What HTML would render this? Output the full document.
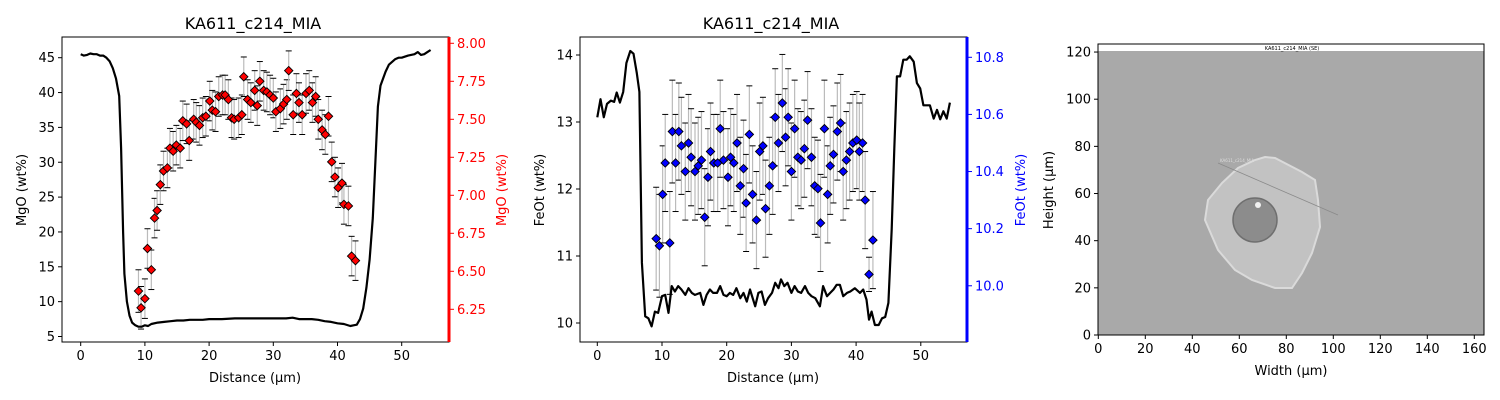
<!DOCTYPE html>
<html><head><meta charset="utf-8"><style>
body{margin:0;background:#fff;}
svg{display:block;font-family:"DejaVu Sans","Liberation Sans",sans-serif;}
</style></head><body>
<svg id="fig" width="1500" height="400" viewBox="0 0 1500 400" xmlns="http://www.w3.org/2000/svg">
<rect width="1500" height="400" fill="#fff"/>
<text x="253" y="29" font-size="16" text-anchor="middle">KA611_c214_MIA</text>
<text x="771" y="29" font-size="16" text-anchor="middle">KA611_c214_MIA</text>
<text x="255" y="382" font-size="13" text-anchor="middle">Distance (µm)</text>
<text x="773" y="382" font-size="13" text-anchor="middle">Distance (µm)</text>
<text x="1291" y="375" font-size="13" text-anchor="middle">Width (µm)</text>
<text transform="translate(26,190) rotate(-90)" font-size="13" text-anchor="middle">MgO (wt%)</text>
<text transform="translate(506,190) rotate(-90)" font-size="13" fill="red" text-anchor="middle">MgO (wt%)</text>
<text transform="translate(544,190) rotate(-90)" font-size="13" text-anchor="middle">FeOt (wt%)</text>
<text transform="translate(1025,190) rotate(-90)" font-size="13" fill="blue" text-anchor="middle">FeOt (wt%)</text>
<text transform="translate(1053,190) rotate(-90)" font-size="13" text-anchor="middle">Height (µm)</text>
<g id="p1"></g>
<g id="p2"></g>
<g id="p3">
  <rect x="1098" y="44" width="386" height="291" fill="#a9a9a9"/>
  <rect x="1098" y="44" width="386" height="7" fill="#fff"/>
  <text x="1292" y="50" font-size="5" text-anchor="middle">KA611_c214_MIA (SE)</text>
  <polygon points="1265,157 1275,158 1302,172 1315,180 1318,200 1320,227 1312,253 1302,273 1292,288 1275,288 1252,280 1235,270 1218,250 1205,220 1208,200 1222,183 1238,168 1255,160" fill="#c2c2c2" stroke="#dadada" stroke-width="2"/>
  <circle cx="1255" cy="220" r="22" fill="#8c8c8c" stroke="#6f6f6f" stroke-width="1.5"/>
  <circle cx="1258" cy="205" r="3" fill="#f0f0f0"/>
  <line x1="1218" y1="163" x2="1338" y2="215" stroke="#8a8a8a" stroke-width="0.8"/>
  <text x="1220" y="162" font-size="4" fill="#ddd">KA611_c214_MIA</text>
</g>
</svg>
<script>
// ---------- MgO data ----------
const mgoLineX=[0,0.5,1,1.5,2,2.5,3,3.5,4,4.5,5,5.5,6,6.3,6.6,6.8,7.2,7.6,8,8.5,9,9.5,10,10.5,11,12,13,14,15,16,17,18,19,20,22,24,26,28,30,32,33,34,36,37,38,39,40,41,42,42.5,43,43.5,44,44.5,45,45.5,46,46.3,46.7,47.5,48,49,49.5,50,51,52,52.5,53,53.5,54,54.5];
const mgoLineY=[45.5,45.3,45.4,45.6,45.5,45.5,45.3,45.3,45.0,44.5,43.5,42,39.5,32,20,14,10,8,7,6.6,6.4,6.4,6.6,6.5,6.8,7.0,7.1,7.2,7.3,7.3,7.4,7.4,7.4,7.5,7.5,7.6,7.6,7.6,7.6,7.6,7.7,7.5,7.5,7.4,7.2,7.1,6.9,6.8,6.5,6.6,6.7,7.5,9,12,16,22,32,38,41,43,44,44.8,45,45,45.3,45.5,45.8,45.4,45.5,45.8,46.1];
const mgoPtX=[9.0,9.4,10.0,10.4,11.0,11.5,11.9,12.4,12.9,13.5,13.9,14.4,14.9,15.5,15.9,16.5,16.9,17.6,18.0,18.5,19.0,19.5,20.1,20.5,21.0,21.5,22.1,22.5,23.0,23.5,23.9,24.6,25.1,25.4,26.0,26.5,27.1,27.5,27.9,28.5,29.0,29.5,30.0,30.4,31.1,31.6,32.1,32.4,33.1,33.6,34.0,34.5,35.1,35.6,36.1,36.6,37.0,37.6,38.1,38.6,39.1,39.6,40.1,40.7,41.0,41.7,42.2,42.8];
const mgoPtY=[6.37,6.26,6.32,6.65,6.51,6.85,6.90,7.07,7.16,7.18,7.31,7.29,7.33,7.31,7.49,7.47,7.36,7.50,7.48,7.46,7.51,7.52,7.62,7.56,7.55,7.65,7.66,7.66,7.63,7.51,7.50,7.51,7.53,7.78,7.63,7.61,7.69,7.59,7.75,7.69,7.68,7.66,7.64,7.55,7.57,7.60,7.63,7.82,7.53,7.67,7.61,7.53,7.67,7.69,7.61,7.65,7.50,7.43,7.40,7.52,7.22,7.12,7.05,7.08,6.94,6.93,6.60,6.57];
const mgoErr=[0.14,0.14,0.13,0.13,0.13,0.13,0.13,0.13,0.13,0.13,0.13,0.13,0.13,0.13,0.13,0.13,0.13,0.13,0.13,0.13,0.13,0.13,0.13,0.13,0.13,0.13,0.13,0.13,0.13,0.13,0.13,0.13,0.13,0.13,0.13,0.13,0.13,0.13,0.13,0.13,0.13,0.13,0.13,0.13,0.13,0.13,0.13,0.13,0.13,0.13,0.13,0.13,0.13,0.13,0.13,0.13,0.13,0.13,0.13,0.13,0.13,0.13,0.13,0.13,0.13,0.13,0.13,0.13];
const mgoXTicks=[0,10,20,30,40,50];
const mgoLTicks=[5,10,15,20,25,30,35,40,45];
const mgoRTicks=["6.25","6.50","6.75","7.00","7.25","7.50","7.75","8.00"];
// ---------- FeO data ----------
const feoLineX=[0,0.5,1.0,1.5,2.1,2.6,3.0,3.5,4.0,4.5,5.1,5.6,6.1,6.5,6.9,7.4,7.9,8.4,8.9,9.4,10.0,10.5,11.0,11.5,12.0,12.5,13.0,13.6,14.1,14.6,15.1,15.9,16.4,16.9,17.4,17.9,18.5,19.0,19.5,20.0,20.5,21.0,21.5,22.1,22.6,23.1,23.6,24.4,24.9,25.4,25.9,26.4,27.0,27.5,28.0,28.4,28.9,29.4,30.0,30.5,31.0,31.5,32.1,32.6,33.1,33.7,34.4,34.9,35.5,36.0,36.5,37.0,37.5,38.0,38.6,39.1,39.8,40.6,41.1,41.6,42.0,42.4,42.9,43.5,44.0,44.5,45.0,45.5,45.9,46.3,46.8,47.3,47.8,48.3,48.9,49.4,49.9,50.4,50.9,51.4,52.0,52.5,53.0,53.5,54.0,54.5];
const feoLineY=[13.07,13.34,13.07,13.27,13.32,13.30,13.44,13.29,13.45,13.88,14.06,14.02,13.73,13.45,10.9,10.10,10.07,9.95,10.17,10.15,10.40,10.42,10.15,10.55,10.47,10.55,10.50,10.42,10.52,10.45,10.42,10.45,10.27,10.42,10.50,10.45,10.45,10.55,10.42,10.40,10.45,10.42,10.52,10.37,10.45,10.32,10.50,10.25,10.45,10.47,10.27,10.37,10.45,10.60,10.52,10.65,10.55,10.60,10.45,10.55,10.47,10.45,10.55,10.45,10.40,10.37,10.25,10.55,10.40,10.45,10.50,10.57,10.57,10.40,10.45,10.47,10.52,10.45,10.50,10.35,10.05,10.17,9.97,9.97,10.07,10.09,10.30,11.4,12.6,13.68,13.68,13.93,13.93,13.98,13.90,13.58,13.50,13.25,13.25,13.25,13.05,13.18,13.04,13.16,13.05,13.29];
const feoPtX=[9.1,9.6,10.1,10.5,11.2,11.6,12.1,12.6,13.0,13.6,14.1,14.5,15.1,15.6,16.1,16.6,17.1,17.5,18.0,18.6,19.0,19.5,20.2,20.6,21.1,21.6,22.1,22.6,23.0,23.5,24.0,24.6,25.1,25.6,26.0,26.6,27.1,27.5,28.0,28.6,29.1,29.5,30.0,30.5,31.0,31.5,32.0,32.5,33.1,33.6,34.1,34.5,35.1,35.6,36.0,36.5,37.1,37.6,38.0,38.5,39.0,39.5,40.1,40.5,41.0,41.4,42.0,42.6];
const feoPtY=[10.165,10.14,10.32,10.43,10.15,10.54,10.43,10.54,10.49,10.40,10.50,10.45,10.40,10.42,10.44,10.24,10.38,10.47,10.43,10.43,10.55,10.44,10.38,10.45,10.43,10.50,10.35,10.41,10.29,10.53,10.32,10.23,10.47,10.49,10.27,10.35,10.42,10.59,10.50,10.64,10.52,10.59,10.40,10.55,10.45,10.44,10.48,10.58,10.45,10.35,10.34,10.22,10.55,10.32,10.42,10.46,10.54,10.57,10.40,10.44,10.47,10.50,10.51,10.47,10.50,10.30,10.04,10.16];
const feoErr=[0.18,0.18,0.17,0.17,0.18,0.18,0.17,0.17,0.17,0.17,0.17,0.17,0.17,0.17,0.17,0.17,0.17,0.17,0.17,0.17,0.17,0.17,0.17,0.17,0.17,0.17,0.17,0.17,0.17,0.17,0.17,0.17,0.17,0.17,0.17,0.17,0.17,0.17,0.17,0.17,0.17,0.17,0.17,0.17,0.17,0.17,0.17,0.17,0.17,0.17,0.17,0.17,0.17,0.17,0.17,0.17,0.17,0.17,0.17,0.17,0.17,0.17,0.17,0.17,0.17,0.17,0.06,0.17];
const feoXTicks=[0,10,20,30,40,50];
const feoLTicks=[10,11,12,13,14];
const feoRTicks=["10.0","10.2","10.4","10.6","10.8"];
// ---------- image axes ----------
const imgXTicks=[0,20,40,60,80,100,120,140,160];
const imgYTicks=[0,20,40,60,80,100,120];

const NS="http://www.w3.org/2000/svg";
function mk(parent,tag,attrs){const e=document.createElementNS(NS,tag);for(const k in attrs)e.setAttribute(k,attrs[k]);parent.appendChild(e);return e;}
function txt(parent,x,y,s,anchor,fill){const t=mk(parent,'text',{x:x,y:y,'font-size':13,'text-anchor':anchor,fill:fill||'#000'});t.textContent=s;return t;}

function panel(g,box,X,YL,YR,lx,ly,px,py,err,xt,lt,rt,rtv,col,fillc){
  // error bars
  for(let i=0;i<px.length;i++){
    const x=X(px[i]),y1=YR(py[i]+err[i]),y2=YR(py[i]-err[i]);
    const l=mk(g,'line',{x1:x,x2:x,y1:y1,y2:y2,stroke:'#bbb','stroke-width':1.2});
    
    
    const c1=mk(g,'line',{x1:x-3,x2:x+3,y1:y1,y2:y1,stroke:'#000','stroke-width':1});
    
    
    const c2=mk(g,'line',{x1:x-3,x2:x+3,y1:y2,y2:y2,stroke:'#000','stroke-width':1});
    
    
  }
  // line
  const pts=lx.map((v,i)=>X(v).toFixed(1)+','+YL(ly[i]).toFixed(1)).join(' ');
  const pl=mk(g,'polyline',{points:pts,fill:'none',stroke:'#000','stroke-width':2.2,'stroke-linejoin':'round'});
  
  
  // markers
  for(let i=0;i<px.length;i++){
    const x=X(px[i]),y=YR(py[i]),r=4.2;
    const d=mk(g,'polygon',{points:`${x},${y-r} ${x+r},${y} ${x},${y+r} ${x-r},${y}`,fill:fillc,stroke:'#000','stroke-width':0.9});
    
    
  }
  // frame
  const f=mk(g,'rect',{x:box[0],y:box[1],width:box[2]-box[0],height:box[3]-box[1],fill:'none',stroke:'#000','stroke-width':1});
  
  
  const rs=mk(g,'line',{x1:box[2],x2:box[2],y1:box[1],y2:box[3],stroke:col,'stroke-width':3});
  
  
  xt.forEach(v=>{const x=X(v);mk(g,'line',{x1:x,x2:x,y1:box[3],y2:box[3]+4,stroke:'#000'});const t=txt(g,x,box[3]+18,String(v),'middle');});
  lt.forEach(v=>{const y=YL(v);mk(g,'line',{x1:box[0]-4,x2:box[0],y1:y,y2:y,stroke:'#000'});const t=txt(g,box[0]-7,y+4.5,String(v),'end');});
  rt.forEach((s,i)=>{const y=YR(rtv[i]);mk(g,'line',{x1:box[2],x2:box[2]+5,y1:y,y2:y,stroke:col});const t=txt(g,box[2]+8,y+4.5,s,'start',col);});
}

panel(document.getElementById('p1'),[62,37,449,342],
  d=>80.7+d*6.42, v=>57.7+(45-v)*6.97, v=>43.3+(8-v)*152,
  mgoLineX,mgoLineY,mgoPtX,mgoPtY,mgoErr,mgoXTicks,mgoLTicks,mgoRTicks,mgoRTicks.map(Number),'red','red');
panel(document.getElementById('p2'),[580,37,967,342],
  d=>597.3+d*6.47, v=>55+(14-v)*67, v=>57.3+(10.8-v)*285.6,
  feoLineX,feoLineY,feoPtX,feoPtY,feoErr,feoXTicks,feoLTicks,feoRTicks,feoRTicks.map(Number),'blue','blue');

// image axes
(function(){
  const g=document.getElementById('p3');
  const X=v=>1098.3+v*2.35, Y=v=>335-v*2.358;
  const f=mk(g,'rect',{x:1098,y:44,width:386,height:291,fill:'none',stroke:'#000','stroke-width':1});
  
  
  imgXTicks.forEach(v=>{const x=X(v);mk(g,'line',{x1:x,x2:x,y1:335,y2:339,stroke:'#000'});const t=txt(g,x,353,String(v),'middle');});
  imgYTicks.forEach(v=>{const y=Y(v);mk(g,'line',{x1:1094,x2:1098,y1:y,y2:y,stroke:'#000'});const t=txt(g,1091,y+4.5,String(v),'end');});
})();
</script>
</body></html>
